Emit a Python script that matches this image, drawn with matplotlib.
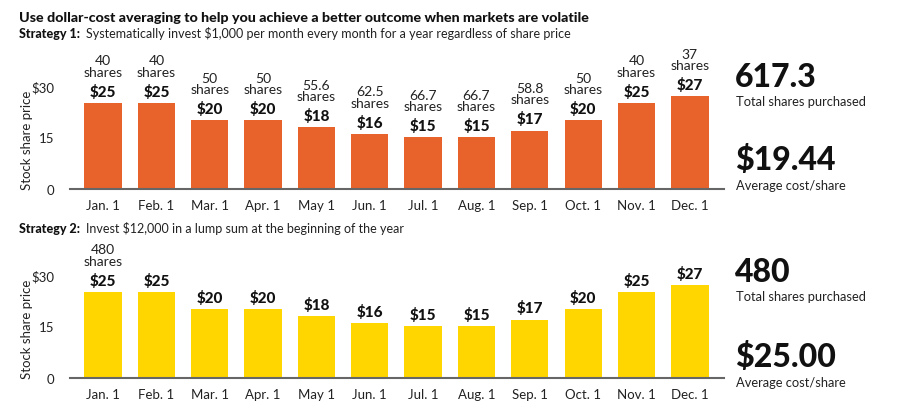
import matplotlib.pyplot as plt

plt.rcParams['font.family'] = ['Lato', 'DejaVu Sans']

months = ['Jan. 1', 'Feb. 1', 'Mar. 1', 'Apr. 1', 'May 1', 'Jun. 1',
          'Jul. 1', 'Aug. 1', 'Sep. 1', 'Oct. 1', 'Nov. 1', 'Dec. 1']
prices = [25, 25, 20, 20, 18, 16, 15, 15, 17, 20, 25, 27]
price_labels = ['$25', '$25', '$20', '$20', '$18', '$16',
                '$15', '$15', '$17', '$20', '$25', '$27']
shares_dca = ['40', '40', '50', '50', '55.6', '62.5',
              '66.7', '66.7', '58.8', '50', '40', '37']
shares_lump = ['480', '', '', '', '', '', '', '', '', '', '', '']
yticks = [0, 15, 30]
ytick_labels = ['0', '15', '$30']

orange = '#E8622B'
yellow = '#FFD600'
W, H = 912, 414

fig = plt.figure(figsize=(W / 100, H / 100), dpi=100)


def fx(x):
    return x / W


def fy(y):
    return 1 - y / H


def draw_panel(base_y, color, shares):
    left, right = 70, 724
    ax = fig.add_axes([fx(left), fy(base_y), (right - left) / W, 137.6 / H])
    xs = range(len(months))
    ax.bar(xs, prices, width=0.7, color=color)
    ax.set_xlim(-0.62, 11.64)
    ax.set_ylim(0, 40)
    ax.set_yticks(yticks)
    ax.set_yticklabels(ytick_labels)
    ax.set_xticks(list(xs))
    ax.set_xticklabels(months)
    ax.tick_params(axis='both', length=0, labelsize=9.5, colors='#222222')
    ax.tick_params(axis='y', pad=11)
    ax.tick_params(axis='x', pad=7)
    for s in ['top', 'right', 'left']:
        ax.spines[s].set_visible(False)
    ax.spines['bottom'].set_color('#666666')
    ax.spines['bottom'].set_linewidth(1.5)
    ax.set_ylabel('Stock share price', fontsize=9.5, color='#222222')
    ax.yaxis.set_label_coords(-0.057, 0.36)
    for i, v in enumerate(prices):
        ax.annotate(price_labels[i], (i, v), xytext=(0, 8.5), textcoords='offset points',
                    ha='center', va='center', fontsize=11, fontweight='black',
                    color='#111111')
        if shares[i]:
            ax.annotate(shares[i] + '\nshares', (i, v), xytext=(0, 26.5),
                        textcoords='offset points', ha='center', va='center',
                        fontsize=10, color='#222222', linespacing=0.95)
    return ax


draw_panel(190, orange, shares_dca)
draw_panel(379, yellow, shares_lump)

# header text
fig.text(fx(19), fy(18), 'Use dollar-cost averaging to help you achieve a better outcome when markets are volatile',
         fontsize=10.3, fontweight='black', va='center', color='#111111')
fig.text(fx(19), fy(34), 'Strategy 1:', fontsize=9, fontweight='black', va='center', color='#111111')
fig.text(fx(86), fy(34), 'Systematically invest $1,000 per month every month for a year regardless of share price',
         fontsize=9, va='center', color='#222222')
fig.text(fx(19), fy(229), 'Strategy 2:', fontsize=9, fontweight='black', va='center', color='#111111')
fig.text(fx(86), fy(229), 'Invest $12,000 in a lump sum at the beginning of the year',
         fontsize=9, va='center', color='#222222')

# summary numbers
summary = [(78, '617.3', 102, 'Total shares purchased'),
           (160, '$19.44', 186, 'Average cost/share'),
           (272, '480', 297, 'Total shares purchased'),
           (357, '$25.00', 383, 'Average cost/share')]
for y_big, big, y_small, small in summary:
    fig.text(fx(735), fy(y_big), big, fontsize=23, fontweight='black', va='center', color='#111111')
    fig.text(fx(736), fy(y_small), small, fontsize=9.3, va='center', color='#222222')

fig.savefig('out.png', dpi=100)
